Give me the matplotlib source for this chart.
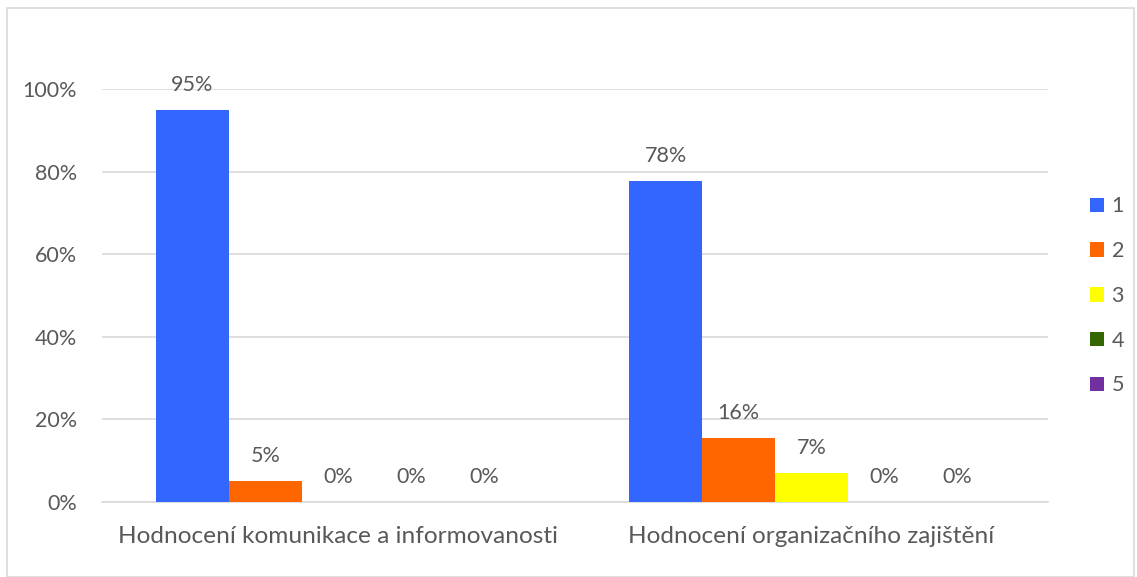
import numpy as np
import matplotlib.pyplot as plt
from matplotlib.patches import Rectangle

categories = ["Hodnocení komunikace a informovanosti", "Hodnocení organizačního zajištění"]
series_names = ["1", "2", "3", "4", "5"]
values = [
    [0.95, 0.777],
    [0.052, 0.156],
    [0.0, 0.07],
    [0.0, 0.0],
    [0.0, 0.0],
]
colors = ["#3366ff", "#ff6600", "#ffff00", "#336600", "#7030a0"]
yticks = [0, 0.2, 0.4, 0.6, 0.8, 1.0]

plt.rcParams['font.family'] = ['Lato', 'DejaVu Sans']
txt = "#595959"

fig = plt.figure(figsize=(11.37, 5.77), dpi=100)
ax = fig.add_axes([102 / 1137, 75 / 577, (1048 - 102) / 1137, (502 - 89) / 577])

x = np.arange(len(categories))
w = 0.1543
for i, (name, vals) in enumerate(zip(series_names, values)):
    pos = x + (i - 2) * w
    ax.bar(pos, vals, width=w, color=colors[i], label=name, zorder=3)
    for px, v in zip(pos, vals):
        ax.annotate(f"{int(v * 100 + 0.5)}%", (px, v), xytext=(0, 18), textcoords="offset points",
                    ha="center", va="center", fontsize=15.5, color=txt, annotation_clip=False)

ax.set_xlim(-0.5, 1.5)
ax.set_ylim(0, 1.0)
ax.set_yticks(yticks)
ax.set_yticklabels([f"{int(t * 100)}%" for t in yticks], fontsize=15.5, color=txt)
ax.set_xticks(x)
ax.set_xticklabels(categories, fontsize=17.6, color=txt)
ax.tick_params(length=0)
ax.tick_params(axis='y', pad=18)
ax.tick_params(axis='x', pad=17)
ax.grid(axis='y', color="#d9d9d9", linewidth=1.2, zorder=0)
for s in ["top", "right", "left"]:
    ax.spines[s].set_visible(False)
ax.spines["bottom"].set_color("#d9d9d9")
ax.spines["bottom"].set_linewidth(1.2)

leg = ax.legend(loc="center left", bbox_to_anchor=(1.0444, 0.499), frameon=False, fontsize=15.5,
                borderaxespad=0, borderpad=0,
                handlelength=0.65, handleheight=0.65, labelspacing=1.15, handletextpad=0.35)
for t in leg.get_texts():
    t.set_color(txt)

fig.patches.append(Rectangle((7 / 1137, 0), 1127 / 1137, 569 / 577, transform=fig.transFigure,
                             fill=False, edgecolor="#d9d9d9", linewidth=1.2))

fig.savefig("out.png", dpi=100)
